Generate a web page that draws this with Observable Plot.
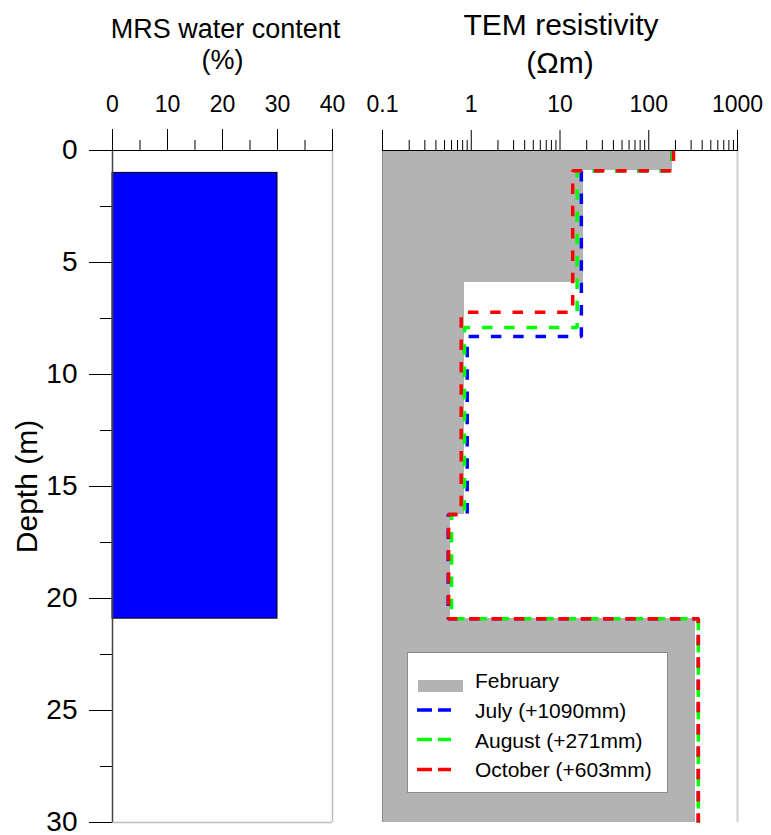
<!DOCTYPE html>
<html><head><meta charset="utf-8">
<script src="https://cdn.jsdelivr.net/npm/d3@7"></script>
<script src="https://cdn.jsdelivr.net/npm/@observablehq/plot@0.6"></script>
<style>
body{margin:0;background:#fff;}
#wrap{position:relative;width:771px;height:835px;font-family:"Liberation Sans",Arial,sans-serif;}
#left,#right,#legend{position:absolute;top:0;}
#left{left:0}
#right{left:360px}
#legend{left:407px;top:652px;}
</style></head><body>
<div id="wrap"><div id="left"></div><div id="right"></div><div id="legend"></div></div>
<script>
// ---- data ----
const depthTicks = [0, 5, 10, 15, 20, 25, 30];
const depthMinor = [2.5, 7.5, 12.5, 17.5, 22.5, 27.5];
const waterTicks = [0, 10, 20, 30, 40];
const waterMinor = [5, 15, 25, 35];
const resTicks = [0.1, 1, 10, 100, 1000];
const resMinor = [0.2,0.3,0.4,0.5,0.6,0.7,0.8,0.9, 2,3,4,5,6,7,8,9, 20,30,40,50,60,70,80,90, 200,300,400,500,600,700,800,900];

const mrsTop = [1.0];
const mrsBottom = [20.9];
const mrsWater = [30];

const febTop    = [0, 0.9, 5.88, 16.25, 20.9];
const febBottom = [0.9, 5.88, 16.25, 20.9, 30];
const febRes    = [184, 18.6, 0.83, 0.58, 338];

const julyTop    = [0, 0.9, 8.3, 16.25, 20.9];
const julyBottom = [0.9, 8.3, 16.25, 20.9, 30];
const julyRes    = [184, 17.4, 0.90, 0.55, 362];

const augTop    = [0, 0.9, 7.9, 16.25, 20.9];
const augBottom = [0.9, 7.9, 16.25, 20.9, 30];
const augRes    = [184, 15.6, 0.84, 0.60, 362];

const octTop    = [0, 0.9, 7.22, 16.25, 20.9];
const octBottom = [0.9, 7.22, 16.25, 20.9, 30];
const octRes    = [190, 13.9, 0.77, 0.556, 362];

const legendLabels = ["February", "July (+1090mm)", "August (+271mm)", "October (+603mm)"];
const legendColors = ["#b3b3b3", "#0000ff", "#00ff00", "#ff0000"];

// ---- helpers ----
const font = "'Liberation Sans', Arial, sans-serif";
const layers = (tops, bottoms, vals) => tops.map((t, i) => ({top: t, bottom: bottoms[i], v: vals[i]}));
const steps = (tops, bottoms, vals) => tops.flatMap((t, i) => [{x: vals[i], y: t}, {x: vals[i], y: bottoms[i]}]);
const mrs = mrsTop.map((t, i) => ({top: t, bottom: mrsBottom[i], water: mrsWater[i]}));
const title = (s, o) => Plot.text([s], {text: d => d, frameAnchor: "top", lineAnchor: "middle", textAnchor: "middle", ...o});

const left = Plot.plot({
  width: 360, height: 835,
  marginLeft: 112, marginRight: 28, marginTop: 150, marginBottom: 13,
  style: {fontFamily: font, fontSize: "23px", color: "black", background: "transparent", overflow: "visible"},
  x: {domain: [0, 40]},
  y: {domain: [0, 30], reverse: true},
  marks: [
    Plot.ruleX([40], {stroke: "#bdbdbd", strokeWidth: 1.5}),
    Plot.ruleY([30], {stroke: "#bdbdbd", strokeWidth: 1.5}),
    Plot.rect(mrs, {x1: () => 0, x2: "water", y1: "top", y2: "bottom", fill: "#0000ff", stroke: "black", strokeWidth: 1}),
    Plot.ruleX([0], {stroke: "#444", strokeWidth: 1.5}),
    Plot.ruleY([0], {stroke: "black"}),
    Plot.axisX({anchor: "top", ticks: waterTicks, tickSize: 22, tickPadding: 17, fontSize: 23, label: null}),
    Plot.axisX({anchor: "top", ticks: waterMinor, tickSize: 11, tickFormat: () => "", label: null}),
    Plot.axisY({anchor: "left", ticks: depthTicks, tickSize: 23, tickPadding: 12, fontSize: 28, label: null}),
    Plot.axisY({anchor: "left", ticks: depthMinor, tickSize: 12, tickFormat: () => "", label: null}),
    Plot.text(["Depth (m)"], {text: d => d, frameAnchor: "left", textAnchor: "middle", lineAnchor: "middle", rotate: -90, dx: -85, fontSize: 30}),
    title("MRS water content", {dx: 3, dy: -121, fontSize: 27}),
    title("(%)", {dx: 0, dy: -90, fontSize: 27})
  ]
});
document.getElementById("left").append(left);

const dash = {strokeWidth: 3.5, strokeDasharray: "10.5,11.8", strokeLinecap: "butt", strokeLinejoin: "miter"};
const right = Plot.plot({
  width: 411, height: 835,
  marginLeft: 22, marginRight: 34, marginTop: 150, marginBottom: 13,
  style: {fontFamily: font, fontSize: "23px", color: "black", background: "transparent", overflow: "visible"},
  x: {type: "log", domain: [0.1, 1000]},
  y: {domain: [0, 30], reverse: true, axis: null},
  marks: [
    Plot.ruleX([1000], {stroke: "#d0d0d0", strokeWidth: 2}),
    Plot.rect(layers(febTop, febBottom, febRes), {x1: () => 0.1, x2: "v", y1: "top", y2: "bottom", fill: "#b3b3b3", shapeRendering: "crispEdges"}),
    Plot.ruleX([0.1], {stroke: "#8a8a8a"}),
    Plot.line(steps(julyTop, julyBottom, julyRes), {x: "x", y: "y", stroke: "#0000ff", ...dash}),
    Plot.line(steps(augTop, augBottom, augRes), {x: "x", y: "y", stroke: "#00ff00", ...dash}),
    Plot.line(steps(octTop, octBottom, octRes), {x: "x", y: "y", stroke: "#ff0000", ...dash}),
    Plot.ruleY([0], {stroke: "black"}),
    Plot.axisX({anchor: "top", ticks: resTicks, tickSize: 21, tickPadding: 18, fontSize: 23, tickFormat: d => String(d), label: null}),
    Plot.axisX({anchor: "top", ticks: resMinor, tickSize: 11, tickFormat: () => "", label: null}),
    title("TEM resistivity", {dx: 1, dy: -125, fontSize: 30}),
    title("(\u03A9m)", {dx: 0, dy: -87, fontSize: 30})
  ]
});
document.getElementById("right").append(right);

// ---- legend ----
const NS = "http://www.w3.org/2000/svg";
const lg = document.createElementNS(NS, "svg");
lg.setAttribute("width", 262); lg.setAttribute("height", 142);
lg.style.fontFamily = font;
lg.innerHTML = `<rect x="0.5" y="0.5" width="260" height="140" fill="#fff" stroke="#8c8c8c"/>`;
const rowY = [34, 58, 87.5, 117.5];
const textY = [35.5, 66, 95.5, 125];
legendLabels.forEach((lab, i) => {
  if (i === 0) {
    const r = document.createElementNS(NS, "rect");
    r.setAttribute("x", 11); r.setAttribute("y", 28); r.setAttribute("width", 45); r.setAttribute("height", 12);
    r.setAttribute("fill", legendColors[i]);
    lg.append(r);
  } else {
    const l = document.createElementNS(NS, "line");
    l.setAttribute("x1", 10); l.setAttribute("x2", 44); l.setAttribute("y1", rowY[i]); l.setAttribute("y2", rowY[i]);
    l.setAttribute("stroke", legendColors[i]); l.setAttribute("stroke-width", 3.5);
    l.setAttribute("stroke-dasharray", "15,6");
    lg.append(l);
  }
  const t = document.createElementNS(NS, "text");
  t.setAttribute("x", 68); t.setAttribute("y", textY[i]);
  t.setAttribute("font-size", 21); t.setAttribute("fill", "black");
  t.textContent = lab;
  lg.append(t);
});
document.getElementById("legend").append(lg);
</script>
</body></html>
